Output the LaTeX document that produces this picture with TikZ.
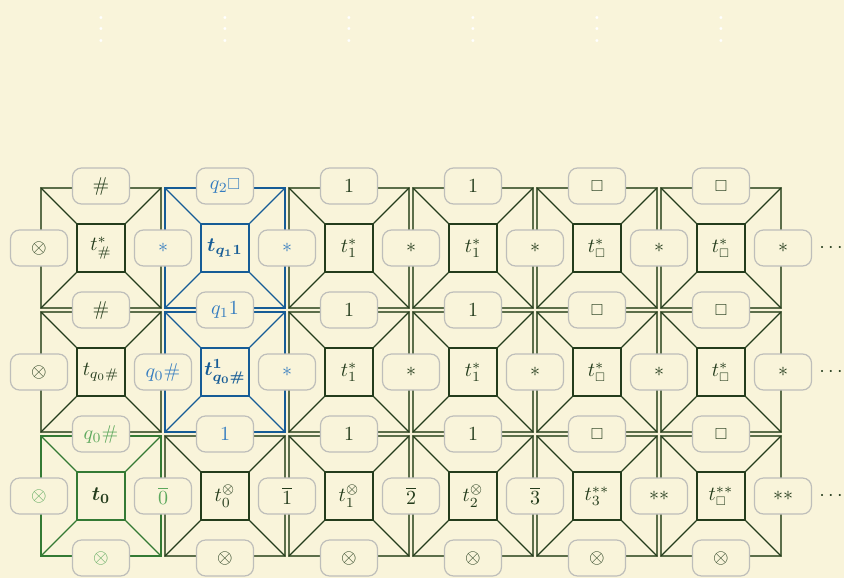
\documentclass[tikz,border=0pt]{standalone}
\usepackage{amssymb}
\usepackage{bm}

\definecolor{paper}{RGB}{249,244,218}
\definecolor{ink}{RGB}{36,60,28}
\definecolor{olive}{RGB}{92,110,74}
\definecolor{labgray}{RGB}{190,190,186}
\definecolor{bline}{RGB}{22,92,150}
\definecolor{btext}{RGB}{52,124,192}
\definecolor{gline}{RGB}{52,122,52}
\definecolor{gtext}{RGB}{92,168,92}

% small blank-cell square
\newcommand{\blankaux}[2]{\scalebox{0.8}{$#1\square$}}
\newcommand{\blank}{{\mathpalette\blankaux\relax}}

\tikzset{
  tileedge/.style={line width=1.1pt},
  tilediag/.style={line width=0.55pt},
  tilecore/.style={draw,line width=0.7pt,minimum size=24pt,inner sep=0pt},
  edgelab/.style={draw=labgray,fill=paper,rounded corners=4.5pt,minimum width=28.5pt,
    minimum height=18pt,inner sep=0pt,line width=0.6pt,text=ink},
}

% one tile: x, y, edge colour, line colour, name, centre text
\newcommand{\wangtile}[6]{%
  \draw[tileedge,#3] (#1-60,#2-60) rectangle (#1+60,#2+60);
  \node[tilecore,draw=#4,text=#4] (#5) at (#1,#2) {#6};
  \draw[tilediag,#4] (#1-60,#2-60) -- (#5.north west)
    (#1+60,#2-60) -- (#5.north east)
    (#1+60,#2+60) -- (#5.south east)
    (#1-60,#2+60) -- (#5.south west);
}

\begin{document}
\begin{tikzpicture}[x=0.5pt,y=-0.5pt]
\path[use as bounding box,fill=paper] (0,0) rectangle (844,578);

% rows going on upwards
\foreach \cx in {101,225,349,473,597,721}
  \node[text=white,inner sep=0pt,scale=1.4] (up\cx) at (\cx,21) {$\vdots$};

% row 1
\wangtile{101}{248}{olive}{ink}{c11}{$t^*_{\#}$}
\wangtile{225}{248}{bline}{bline}{c12}{$\bm{t_{q_1 1}}$}
\wangtile{349}{248}{olive}{ink}{c13}{$t^*_1$}
\wangtile{473}{248}{olive}{ink}{c14}{$t^*_1$}
\wangtile{597}{248}{olive}{ink}{c15}{$t^*_\blank$}
\wangtile{721}{248}{olive}{ink}{c16}{$t^*_\blank$}

% row 2
\wangtile{101}{372}{olive}{ink}{c21}{$t_{q_0\#}$}
\wangtile{225}{372}{bline}{bline}{c22}{$\bm{t^1_{q_0\#}}$}
\wangtile{349}{372}{olive}{ink}{c23}{$t^*_1$}
\wangtile{473}{372}{olive}{ink}{c24}{$t^*_1$}
\wangtile{597}{372}{olive}{ink}{c25}{$t^*_\blank$}
\wangtile{721}{372}{olive}{ink}{c26}{$t^*_\blank$}

% row 3
\wangtile{101}{496}{gline}{gline}{c31}{\color{ink}$\bm{t_0}$}
\wangtile{225}{496}{olive}{ink}{c32}{$t^\otimes_0$}
\wangtile{349}{496}{olive}{ink}{c33}{$t^\otimes_1$}
\wangtile{473}{496}{olive}{ink}{c34}{$t^\otimes_2$}
\wangtile{597}{496}{olive}{ink}{c35}{$t^{**}_3$}
\wangtile{721}{496}{olive}{ink}{c36}{$t^{**}_\blank$}

% horizontal edge labels
\node[edgelab] (h01) at (101,186) {$\#$};
\node[edgelab,text=btext] (h02) at (225,186) {$q_2\blank$};
\node[edgelab] (h03) at (349,186) {$1$};
\node[edgelab] (h04) at (473,186) {$1$};
\node[edgelab] (h05) at (597,186) {$\blank$};
\node[edgelab] (h06) at (721,186) {$\blank$};

\node[edgelab] (h11) at (101,310) {$\#$};
\node[edgelab,text=btext] (h12) at (225,310) {$q_1 1$};
\node[edgelab] (h13) at (349,310) {$1$};
\node[edgelab] (h14) at (473,310) {$1$};
\node[edgelab] (h15) at (597,310) {$\blank$};
\node[edgelab] (h16) at (721,310) {$\blank$};

\node[edgelab,text=gtext] (h21) at (101,434) {$q_0\#$};
\node[edgelab,text=btext] (h22) at (225,434) {$1$};
\node[edgelab] (h23) at (349,434) {$1$};
\node[edgelab] (h24) at (473,434) {$1$};
\node[edgelab] (h25) at (597,434) {$\blank$};
\node[edgelab] (h26) at (721,434) {$\blank$};

\node[edgelab,text=gtext] (h31) at (101,558) {$\otimes$};
\node[edgelab] (h32) at (225,558) {$\otimes$};
\node[edgelab] (h33) at (349,558) {$\otimes$};
\node[edgelab] (h34) at (473,558) {$\otimes$};
\node[edgelab] (h35) at (597,558) {$\otimes$};
\node[edgelab] (h36) at (721,558) {$\otimes$};

% vertical edge labels
\node[edgelab] (v10) at (39,248) {$\otimes$};
\node[edgelab,text=btext] (v11) at (163,248) {$*$};
\node[edgelab,text=btext] (v12) at (287,248) {$*$};
\node[edgelab] (v13) at (411,248) {$*$};
\node[edgelab] (v14) at (535,248) {$*$};
\node[edgelab] (v15) at (659,248) {$*$};
\node[edgelab] (v16) at (783,248) {$*$};

\node[edgelab] (v20) at (39,372) {$\otimes$};
\node[edgelab,text=btext] (v21) at (163,372) {$q_0\#$};
\node[edgelab,text=btext] (v22) at (287,372) {$*$};
\node[edgelab] (v23) at (411,372) {$*$};
\node[edgelab] (v24) at (535,372) {$*$};
\node[edgelab] (v25) at (659,372) {$*$};
\node[edgelab] (v26) at (783,372) {$*$};

\node[edgelab,text=gtext] (v30) at (39,496) {$\otimes$};
\node[edgelab,text=gtext] (v31) at (163,496) {$\overline{0}$};
\node[edgelab] (v32) at (287,496) {$\overline{1}$};
\node[edgelab] (v33) at (411,496) {$\overline{2}$};
\node[edgelab] (v34) at (535,496) {$\overline{3}$};
\node[edgelab] (v35) at (659,496) {$**$};
\node[edgelab] (v36) at (783,496) {$**$};

% rows going on to the right
\node[text=ink,inner sep=0pt] (r1) at (831,248) {$\cdots$};
\node[text=ink,inner sep=0pt] (r2) at (831,372) {$\cdots$};
\node[text=ink,inner sep=0pt] (r3) at (831,496) {$\cdots$};
\end{tikzpicture}
\end{document}
